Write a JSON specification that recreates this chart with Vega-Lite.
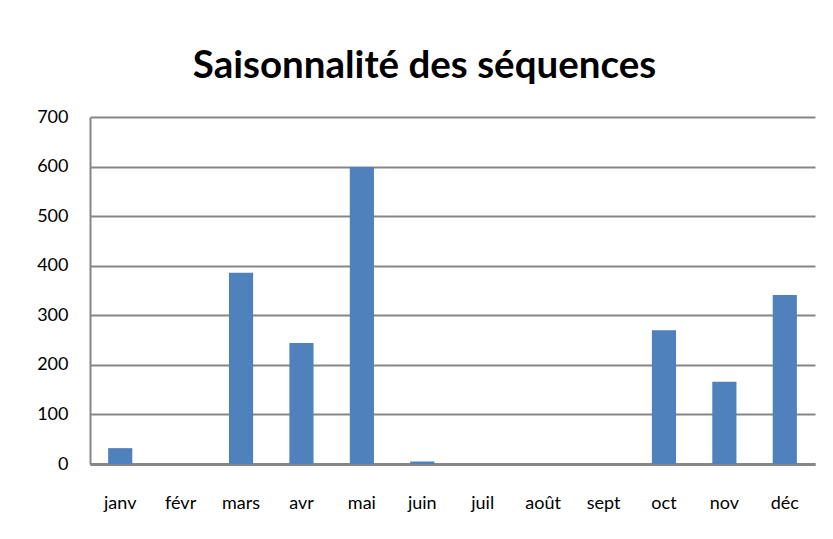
{
  "$schema": "https://vega.github.io/schema/vega-lite/v6.json",
  "width": 725,
  "height": 347,
  "autosize": {"type": "none"},
  "padding": {"left": 90, "top": 117, "right": 18, "bottom": 75},
  "background": "white",
  "title": {
    "text": "Saisonnalité des séquences",
    "font": "Lato",
    "fontSize": 38.5,
    "fontWeight": "bold",
    "color": "black",
    "anchor": "middle",
    "dx": -28,
    "offset": 22
  },
  "data": {
    "values": [
      {"mois": "janv", "n": 32},
      {"mois": "févr", "n": 0},
      {"mois": "mars", "n": 386},
      {"mois": "avr", "n": 244},
      {"mois": "mai", "n": 599},
      {"mois": "juin", "n": 5},
      {"mois": "juil", "n": 0},
      {"mois": "août", "n": 0},
      {"mois": "sept", "n": 0},
      {"mois": "oct", "n": 270},
      {"mois": "nov", "n": 166},
      {"mois": "déc", "n": 341}
    ]
  },
  "mark": {"type": "bar", "color": "#4F81BD"},
  "encoding": {
    "x": {
      "field": "mois",
      "type": "nominal",
      "sort": null,
      "scale": {"paddingInner": 0.6, "paddingOuter": 0.3},
      "axis": {
        "title": null,
        "labelAngle": 0,
        "labelFont": "Lato",
        "labelFontSize": 18,
        "labelColor": "black",
        "labelPadding": 30,
        "ticks": false,
        "domainColor": "#868686",
        "domainWidth": 3
      }
    },
    "y": {
      "field": "n",
      "type": "quantitative",
      "scale": {"domain": [0, 700]},
      "axis": {
        "title": null,
        "values": [0, 100, 200, 300, 400, 500, 600, 700],
        "labelFont": "Lato",
        "labelFontSize": 18,
        "labelColor": "black",
        "labelPadding": 22,
        "ticks": false,
        "grid": true,
        "gridColor": "#868686",
        "gridWidth": 2,
        "domainColor": "#868686",
        "domainWidth": 2
      }
    }
  },
  "config": {"view": {"stroke": null}}
}
